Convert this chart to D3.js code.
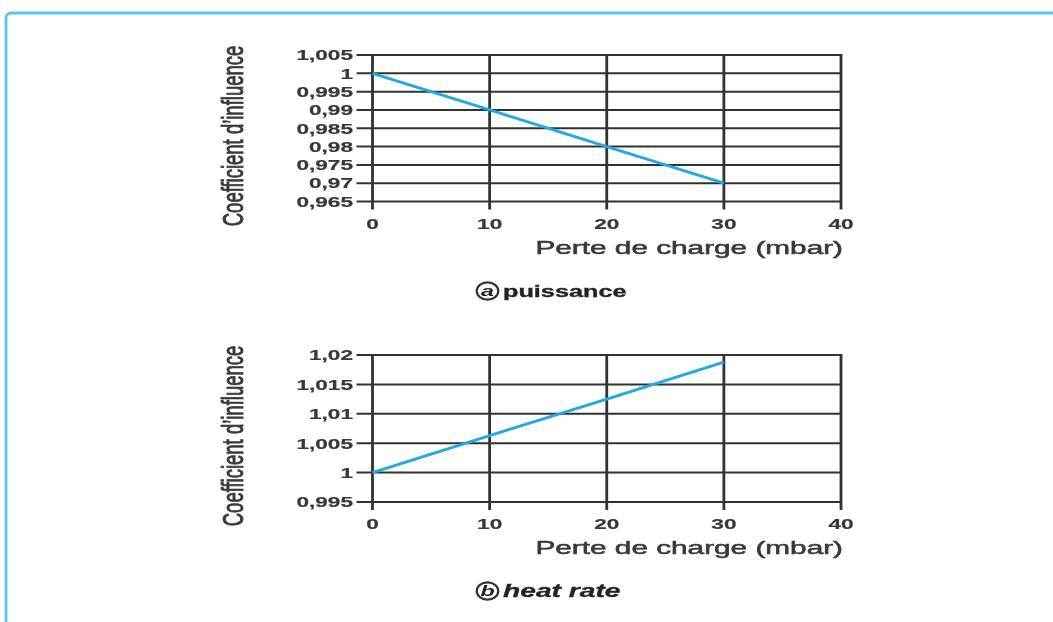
<!DOCTYPE html>
<html>
<head>
<meta charset="utf-8">
<script src="https://cdn.jsdelivr.net/npm/d3@7"></script>
<style>
  html, body { margin: 0; padding: 0; background: #fff; }
  svg { display: block; }
</style>
</head>
<body>
<script>
// Pressure loss (mbar) and the two influence coefficients
const pressureLoss = [0, 10, 20, 30];
const powerCoef = [1, 0.99, 0.98, 0.97];
const heatRateCoef = [1, 1.0063, 1.0125, 1.0188];

const xTicks = [0, 10, 20, 30, 40];
const xTickLabels = ["0", "10", "20", "30", "40"];

const yTicksA = [1.005, 1, 0.995, 0.99, 0.985, 0.98, 0.975, 0.97, 0.965];
const yTickLabelsA = ["1,005", "1", "0,995", "0,99", "0,985", "0,98", "0,975", "0,97", "0,965"];

const yTicksB = [1.02, 1.015, 1.01, 1.005, 1, 0.995];
const yTickLabelsB = ["1,02", "1,015", "1,01", "1,005", "1", "0,995"];

const W = 1053, H = 622;
const STRETCH = 1.55;         // horizontal widening of the lettering
const GRID = "#333";
const TEXT = "#383838";
const LINE = "#22a8e2";

const svg = d3.select("body").append("svg")
  .attr("width", W).attr("height", H);

const defs = svg.append("defs");
defs.append("filter").attr("id", "soft")
  .attr("x", "-5%").attr("y", "-5%").attr("width", "110%").attr("height", "110%")
  .append("feGaussianBlur").attr("stdDeviation", 0.7);

const root = svg.append("g").attr("filter", "url(#soft)");

// outer frame
root.append("rect")
  .attr("x", 6).attr("y", 13)
  .attr("width", W + 20).attr("height", H + 20)
  .attr("rx", 5)
  .attr("fill", "none")
  .attr("stroke", "#5cc3ef")
  .attr("stroke-width", 2.8);

function stretchedText(g, x, y, str, opts) {
  const t = g.append("g")
    .attr("transform", `translate(${x},${y}) scale(${STRETCH},1)${opts.rotate ? " rotate(-90)" : ""}`)
    .append("text")
    .attr("x", 0).attr("y", 0)
    .attr("text-anchor", opts.anchor || "start")
    .attr("font-family", "'Liberation Sans', Arial, sans-serif")
    .attr("font-size", opts.size)
    .attr("font-weight", opts.weight || "normal")
    .attr("font-style", opts.style || "normal")
    .attr("fill", opts.fill || TEXT)
    .attr("stroke", opts.fill || TEXT)
    .attr("stroke-width", opts.thick || 0)
    .text(str);
  return t;
}

function panel(cfg) {
  const g = root.append("g");
  const x = d3.scaleLinear().domain([0, 40]).range([372.5, 841]);
  const y = d3.scaleLinear().domain(cfg.yDomain).range([cfg.bottom, cfg.top]);

  // horizontal grid lines with left ticks
  g.selectAll(".hg").data(cfg.yTicks).join("line")
    .attr("x1", x(0) - 16).attr("x2", x(40) + 1)
    .attr("y1", d => y(d)).attr("y2", d => y(d))
    .attr("stroke", GRID).attr("stroke-width", 2);

  // vertical grid lines with bottom ticks
  g.selectAll(".vg").data(xTicks).join("line")
    .attr("x1", d => x(d)).attr("x2", d => x(d))
    .attr("y1", cfg.top - 1).attr("y2", cfg.bottom + 8)
    .attr("stroke", GRID).attr("stroke-width", 2.8);

  // data line
  const line = d3.line().x((d, i) => x(pressureLoss[i])).y(d => y(d));
  g.append("path").datum(cfg.values)
    .attr("d", line)
    .attr("fill", "none")
    .attr("stroke", LINE)
    .attr("stroke-width", 3)
    .attr("stroke-linecap", "butt");

  // y tick labels
  cfg.yTicks.forEach((v, i) => {
    stretchedText(g, 353, y(v) + 5.3, cfg.yLabels[i], { size: 14.6, weight: "bold", anchor: "end", thick: 0.2 });
  });

  // x tick labels
  xTicks.forEach((v, i) => {
    stretchedText(g, x(v), cfg.bottom + 27, xTickLabels[i], { size: 14.6, weight: "bold", anchor: "middle", thick: 0.2 });
  });

  // axis titles
  stretchedText(g, 843, cfg.bottom + 52, "Perte de charge (mbar)", { size: 19.2, anchor: "end", thick: 0.55 });
  stretchedText(g, 242.5, cfg.titleY, "Coefficient d\u2019influence", { size: 18.5, anchor: "middle", rotate: true, thick: 0.6 });

  // caption: circled letter + name
  g.append("ellipse")
    .attr("cx", 487.5).attr("cy", cfg.captionY)
    .attr("rx", 10.8).attr("ry", 8.6)
    .attr("fill", "none").attr("stroke", "#333").attr("stroke-width", 2.2);
  stretchedText(g, 487.5, cfg.captionY + 5.3, cfg.letter, { size: 15, weight: "bold", style: "italic", anchor: "middle", fill: "#222" });
  stretchedText(g, 503, cfg.captionY + 6, cfg.caption, { size: cfg.captionSize, weight: "bold", style: cfg.captionStyle, fill: "#222", thick: 0.3 });
}

panel({
  yDomain: [0.965, 1.005], top: 55, bottom: 201.5,
  yTicks: yTicksA, yLabels: yTickLabelsA, values: powerCoef,
  titleY: 136, captionY: 291, letter: "a", caption: "puissance",
  captionSize: 16.3, captionStyle: "normal"
});

panel({
  yDomain: [0.995, 1.02], top: 355, bottom: 502,
  yTicks: yTicksB, yLabels: yTickLabelsB, values: heatRateCoef,
  titleY: 436, captionY: 591, letter: "b", caption: "heat rate",
  captionSize: 18.2, captionStyle: "italic"
});
</script>
</body>
</html>
